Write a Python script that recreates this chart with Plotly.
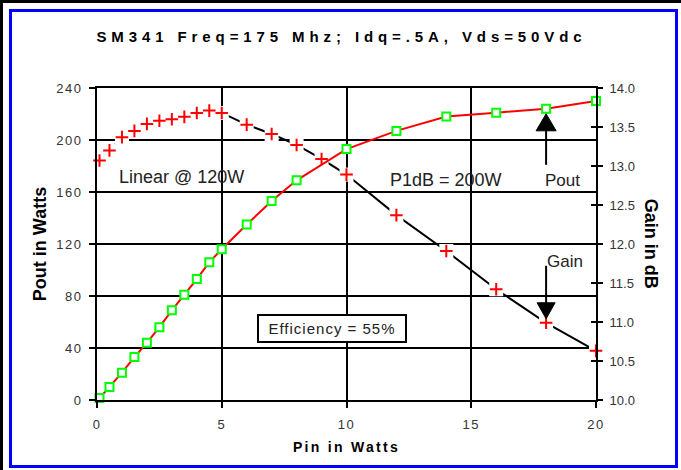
import plotly.graph_objects as go

# ---------------- data ----------------
pin_pout = [0.1, 0.5, 1, 1.5, 2, 2.5, 3, 3.5, 4, 4.5, 5, 6, 7, 8, 10, 12, 14, 16, 18, 20]
pout = [1.5, 10, 21, 33, 44, 56, 69, 81, 93, 106, 116, 135, 153, 169, 193, 207, 218, 221, 224, 230]

pin_gain = [0.1, 0.5, 1, 1.5, 2, 2.5, 3, 3.5, 4, 4.5, 5, 6, 7, 8, 9, 10, 12, 14, 16, 18, 20]
gain = [13.07, 13.20, 13.37, 13.45, 13.54, 13.58, 13.60, 13.63, 13.68, 13.71, 13.68,
        13.53, 13.41, 13.27, 13.09, 12.89, 12.37, 11.91, 11.42, 10.99, 10.63]

x_ticks = [0, 5, 10, 15, 20]
pout_ticks = [0, 40, 80, 120, 160, 200, 240]
gain_ticks = [10.0, 10.5, 11.0, 11.5, 12.0, 12.5, 13.0, 13.5, 14.0]

title_text = "SM341 Freq=175 Mhz; Idq=.5A, Vds=50Vdc"

# ---------------- geometry ----------------
W, H = 681, 470
L, R, T, B = 97, 596, 88, 400
PW, PH = R - L, B - T
FONT = "Liberation Sans, Arial, Helvetica, sans-serif"


def px(xp):
    return (xp - L) / PW


def py(yp):
    return (B - yp) / PH


# pixel scale per data unit
sx = PW / (x_ticks[-1] - x_ticks[0])
s_pout = PH / (pout_ticks[-1] - pout_ticks[0])
s_gain = PH / (gain_ticks[-1] - gain_ticks[0])

fig = go.Figure()

# Gain (primary y, right side) -- drawn under Pout
fig.add_trace(go.Scatter(x=pin_gain, y=gain, mode="lines", yaxis="y",
                         line=dict(color="black", width=2), hoverinfo="skip"))
fig.add_trace(go.Scatter(x=pin_gain, y=gain, mode="markers", yaxis="y",
                         marker=dict(symbol="square", size=14, color="white",
                                     line=dict(width=0)), cliponaxis=False,
                         hoverinfo="skip"))
fig.add_trace(go.Scatter(x=pin_gain, y=gain, mode="markers", yaxis="y", name="Gain",
                         marker=dict(symbol="cross-thin", size=9, color="red",
                                     line=dict(color="red", width=2)),
                         cliponaxis=False))
# Pout (overlay y2, left side)
fig.add_trace(go.Scatter(x=pin_pout, y=pout, mode="lines+markers", yaxis="y2", name="Pout",
                         line=dict(color="red", width=2),
                         marker=dict(symbol="square", size=8, color="white",
                                     line=dict(color="#00ff00", width=2)),
                         cliponaxis=False))
# invisible trace so the crossing-tick axis is drawn
fig.add_trace(go.Scatter(x=[pin_gain[0]], y=[gain[0]], yaxis="y3", mode="markers",
                         marker=dict(opacity=0), hoverinfo="skip"))

axis_common = dict(showline=True, linecolor="black", linewidth=2, zeroline=False,
                   tickcolor="black", tickwidth=2,
                   tickfont=dict(family=FONT, size=13, color="#333"))

fig.update_layout(
    width=W, height=H, autosize=False,
    margin=dict(l=L, r=W - R, t=T, b=H - B, pad=0),
    paper_bgcolor="white", plot_bgcolor="white",
    showlegend=False,
    font=dict(family=FONT, color="#222", size=13),
    title=dict(text=title_text, x=341.5 / W, xref="container", xanchor="center",
               y=1 - 37 / H, yref="container", yanchor="middle",
               font=dict(family=FONT, size=15, color="black", weight="bold")),
    xaxis=dict(range=[x_ticks[0], x_ticks[-1]], tickvals=x_ticks, showgrid=True,
               gridcolor="black", gridwidth=2, mirror=True, ticks="outside", ticklen=6,
               ticklabelstandoff=5,
               title=dict(text="Pin in Watts", standoff=12,
                          font=dict(family=FONT, size=14, color="black", weight="bold")),
               **axis_common),
    yaxis=dict(range=[gain_ticks[0], gain_ticks[-1]], tickvals=gain_ticks, tickformat=".1f",
               side="right", anchor="x", showgrid=False, ticks="outside", ticklen=5,
               ticklabelstandoff=4, **axis_common),
    yaxis2=dict(range=[pout_ticks[0], pout_ticks[-1]], tickvals=pout_ticks, side="left",
                overlaying="y", anchor="x", showgrid=True, gridcolor="black", gridwidth=2,
                ticks="outside", ticklen=6, ticklabelstandoff=4,
                title=dict(text="Pout in Watts", standoff=9,
                           font=dict(family=FONT, size=18, color="black", weight="bold")),
                **axis_common),
    yaxis3=dict(range=[gain_ticks[0], gain_ticks[-1]], tickvals=gain_ticks, side="right",
                overlaying="y", anchor="x", showgrid=False, showline=False, zeroline=False,
                ticks="inside", ticklen=5, tickwidth=2, tickcolor="black",
                showticklabels=False),
)

# ---------------- annotations ----------------
ann_font = dict(family=FONT, size=18, color="#222")
fig.add_annotation(x=3.4, y=171.5, xref="x", yref="y2", text="Linear @ 120W",
                   showarrow=False, font=ann_font)
fig.add_annotation(x=14.0, y=169.5, xref="x", yref="y2", text="P1dB = 200W",
                   showarrow=False, font=ann_font)
fig.add_annotation(x=18.66, y=168.8, xref="x", yref="y2", text="Pout",
                   showarrow=False, font=dict(family=FONT, size=17, color="#222"))
fig.add_annotation(x=18.76, y=11.78, xref="x", yref="y", text="Gain",
                   showarrow=False, font=dict(family=FONT, size=17, color="#222"))
fig.add_annotation(x=9.42, y=55, xref="x", yref="y2", text="Efficiency = 55%",
                   showarrow=False, font=dict(family=FONT, size=15, color="#222"),
                   bgcolor="white", bordercolor="black", borderwidth=2, borderpad=1,
                   width=144, height=23)
fig.add_annotation(x=px(663), y=py(243.7), xref="paper", yref="paper", text="Gain in dB",
                   textangle=90, showarrow=False,
                   font=dict(family=FONT, size=18, color="black", weight="bold"))

# ---------------- arrows (anchored to data points) ----------------
tx, ty = pin_pout[18], pout[18]
hw = 10 / sx
fig.add_shape(type="path", xref="x", yref="y2",
              path=f"M {tx},{ty - 5 / s_pout} L {tx - hw},{ty - 22 / s_pout} L {tx + hw},{ty - 22 / s_pout} Z",
              fillcolor="black", line=dict(color="black", width=1))
fig.add_shape(type="line", xref="x", yref="y2",
              x0=tx, x1=tx, y0=ty - 20 / s_pout, y1=ty - 56 / s_pout,
              line=dict(color="black", width=2))

gx, gy = pin_gain[19], gain[19]
hw2 = 9 / sx
fig.add_shape(type="path", xref="x", yref="y",
              path=f"M {gx},{gy + 4 / s_gain} L {gx - hw2},{gy + 20 / s_gain} L {gx + hw2},{gy + 20 / s_gain} Z",
              fillcolor="black", line=dict(color="black", width=1))
fig.add_shape(type="line", xref="x", yref="y",
              x0=gx, x1=gx, y0=gy + 18 / s_gain, y1=gy + 57 / s_gain,
              line=dict(color="black", width=2))

# ---------------- frame ----------------
fig.add_shape(type="rect", xref="paper", yref="paper",
              x0=px(10.5), x1=px(676.5), y0=py(10.5), y1=py(466.5),
              line=dict(color="#0000ff", width=3), fillcolor="rgba(0,0,0,0)")
fig.add_shape(type="line", xref="paper", yref="paper",
              x0=px(0), x1=px(W), y0=py(1.5), y1=py(1.5), line=dict(color="black", width=3))
fig.add_shape(type="line", xref="paper", yref="paper",
              x0=px(1.5), x1=px(1.5), y0=py(0), y1=py(H), line=dict(color="black", width=3))

post = """
(function(){
  document.body.style.margin = '0';
  var gd = document.getElementById('{plot_id}');
  function apply(){
    function q(sel, v){ gd.querySelectorAll(sel).forEach(function(e){ e.style.letterSpacing = v; }); }
    q('.gtitle', '4.9px');
    q('.xtitle', '2.3px');
    q('.xtick text', '1.5px');
    q('.y2tick text', '1.5px');
    gd.querySelectorAll('.annotation-text').forEach(function(e){
      if (e.textContent.indexOf('Efficiency') === 0) { e.style.letterSpacing = '1px'; }
    });
  }
  apply();
  if (gd.on) { gd.on('plotly_afterplot', apply); }
  setTimeout(apply, 30);
})();
"""

fig.write_html("out.html", post_script=post, config={"displayModeBar": False})
